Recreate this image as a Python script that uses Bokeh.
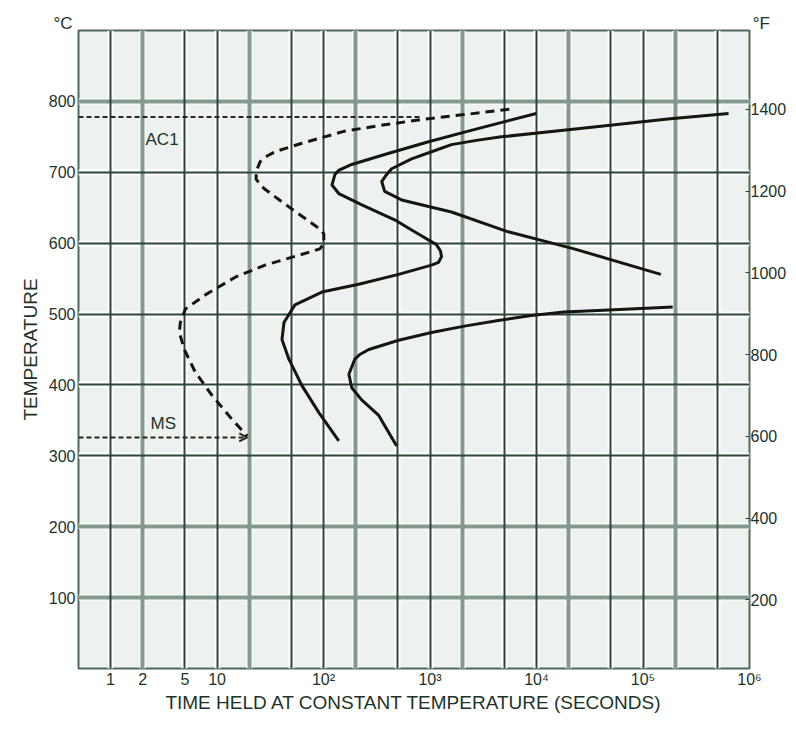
from bokeh.plotting import figure
from bokeh.models import Range1d, LinearAxis, FixedTicker, Grid, Label, Arrow, OpenHead, Title
from bokeh.embed import file_html
from bokeh.resources import INLINE

# ---------------- data (time in seconds, temperature in °C) ----------------
x_ticks = [1, 2, 5, 10, 100, 1000, 10000, 100000, 1000000]
x_tick_labels = ["1", "2", "5", "10", "10²", "10³", "10⁴", "10⁵", "10⁶"]
x_grid_dark = [1, 5, 10, 50, 100, 500, 1000, 5000, 10000, 50000, 100000, 500000]
x_grid_light = [2, 20, 200, 2000, 20000, 200000]
y_ticks_c = [100, 200, 300, 400, 500, 600, 700, 800]
y_grid_dark = [300, 400, 500, 600, 700]
y_grid_light = [100, 200, 800]
y_ticks_f = [200, 400, 600, 800, 1000, 1200, 1400]

# dashed (beginning of transformation) curve
dash_t = [5550, 2290, 890, 375, 158, 62.7, 35.0, 29.5, 25.4, 23.3, 23.3, 27.6, 50.6, 92.4,
          100.7, 100.7, 92.4, 58.8, 28.2, 14.8, 7.75, 5.04, 4.52, 4.43, 4.93, 6.25, 9.0,
          13.9, 19.2]
dash_T = [789, 782, 775, 767, 758, 741, 729, 723, 715, 701, 690, 677, 648, 620,
          613, 599, 592, 583, 569, 552, 527, 507, 488, 474, 450, 418, 385,
          351, 328]

# solid start curve
start_t = [9930, 2290, 968, 375, 184, 140, 128, 120, 139, 229, 465, 716, 1150, 1254,
           1282, 1202, 1033, 507, 214, 96.5, 53.9, 42.5, 40.7, 47.4, 62.7, 90.4, 139]
start_T = [783, 758, 743, 725, 711, 703, 697, 682, 670, 654, 633, 616, 598, 589,
           581, 573, 569, 556, 542, 531, 513, 488, 464, 436, 399, 361, 321]

# solid finish curve, upper branch
finish_t = [636000, 171000, 40300, 17000, 4670, 2725, 1590, 1033, 671, 436, 383, 352, 375,
            541, 1590, 5430, 22500, 147000]
finish_T = [783, 775, 765, 759, 750, 745, 739, 729, 719, 705, 695, 687, 673,
            661, 644, 616, 592, 556]

# solid finish curve, lower branch
lower_t = [190000, 37800, 18150, 8910, 4375, 2105, 1033, 507, 266, 219, 196, 173, 184,
           228, 330, 486]
lower_T = [510, 505, 503, 498, 491, 483, 474, 463, 450, 443, 436, 415, 396,
           379, 357, 314]

# reference lines
ac1_t = [0.5, 830]
ac1_T = [778, 778]
ms_t = [0.5, 19.2]
ms_T = [326, 326]

TXT = "#1d3327"
FONT = "Liberation Sans"

p = figure(x_axis_type="log", x_range=Range1d(0.5, 1e6), y_range=Range1d(0, 900),
           frame_width=671, frame_height=638,
           min_border_left=78, min_border_right=38, min_border_top=30, min_border_bottom=56,
           output_backend="svg", toolbar_location=None,
           background_fill_color="#edf2f0", border_fill_color="white",
           outline_line_color="#4f6b5b", outline_line_width=2)

p.xgrid.visible = False
p.ygrid.visible = False

all_x = x_grid_dark + x_grid_light
all_y = y_grid_dark + y_grid_light
p.add_layout(Grid(dimension=0, ticker=FixedTicker(ticks=all_x), grid_line_color="white", grid_line_width=6))
p.add_layout(Grid(dimension=1, ticker=FixedTicker(ticks=all_y), grid_line_color="white", grid_line_width=6))
p.add_layout(Grid(dimension=0, ticker=FixedTicker(ticks=x_grid_light), grid_line_color="#83998d", grid_line_width=4))
p.add_layout(Grid(dimension=1, ticker=FixedTicker(ticks=y_grid_light), grid_line_color="#83998d", grid_line_width=4))
p.add_layout(Grid(dimension=0, ticker=FixedTicker(ticks=x_grid_dark), grid_line_color="#2c4638", grid_line_width=2))
p.add_layout(Grid(dimension=1, ticker=FixedTicker(ticks=y_grid_dark), grid_line_color="#2c4638", grid_line_width=2))

# axes
xa = p.xaxis[0]
xa.ticker = FixedTicker(ticks=x_ticks)
xa.major_label_overrides = {t: l for t, l in zip(x_ticks, x_tick_labels)}
xa.axis_label = "TIME HELD AT CONSTANT TEMPERATURE (SECONDS)"

ya = p.yaxis[0]
ya.ticker = FixedTicker(ticks=y_ticks_c)
ya.axis_label = "TEMPERATURE"

p.extra_y_ranges = {"F": Range1d(32, 1593)}
fa = LinearAxis(y_range_name="F", ticker=FixedTicker(ticks=y_ticks_f))
p.add_layout(fa, "right")

for ax in (xa, ya, fa):
    ax.axis_line_color = None
    ax.minor_tick_line_color = None
    ax.major_tick_out = 0
    ax.major_tick_in = 0
    ax.major_label_text_font = FONT
    ax.major_label_text_font_size = "16px"
    ax.major_label_text_color = TXT
    ax.major_label_standoff = 3
    ax.axis_label_text_font = FONT
    ax.axis_label_text_font_size = "19px"
    ax.axis_label_text_font_style = "normal"
    ax.axis_label_text_color = TXT
fa.major_tick_in = 4
fa.major_tick_line_color = "#2c4638"
fa.major_label_standoff = 1
xa.major_label_standoff = 2
xa.axis_label_standoff = 1
ya.axis_label_standoff = 5

# unit captions above the frame (°C at left, °F at right)
unit_caption = "°C" + "\u00a0" * 144 + "°F"
p.add_layout(Title(text=unit_caption, align="left", offset=-25, standoff=-5,
                   text_font=FONT, text_font_size="17px", text_font_style="normal",
                   text_color=TXT), "above")

# curves
INK = "#16160f"
p.line(ac1_t, ac1_T, line_color="#2a281c", line_width=2, line_dash="5 3")
p.line(ms_t, ms_T, line_color="#2a281c", line_width=2, line_dash="5 3")
p.add_layout(Arrow(end=OpenHead(size=8, line_width=2, line_color="#2a281c"),
                   x_start=ms_t[1] * 0.8, y_start=ms_T[1], x_end=ms_t[1], y_end=ms_T[1],
                   line_alpha=0))
p.line(dash_t, dash_T, line_color=INK, line_width=3, line_dash="9 6", line_join="round")
p.line(start_t, start_T, line_color=INK, line_width=3, line_join="round")
p.line(finish_t, finish_T, line_color=INK, line_width=3, line_join="round")
p.line(lower_t, lower_T, line_color=INK, line_width=3, line_join="round")

# annotations
p.add_layout(Label(x=2.13, y=746, text="AC1", text_font=FONT, text_font_size="17px",
                   text_color=TXT, text_baseline="middle", text_align="left"))
p.add_layout(Label(x=2.37, y=345, text="MS", text_font=FONT, text_font_size="17px",
                   text_color=TXT, text_baseline="middle", text_align="left"))

open("out.html", "w").write(file_html(p, INLINE))
